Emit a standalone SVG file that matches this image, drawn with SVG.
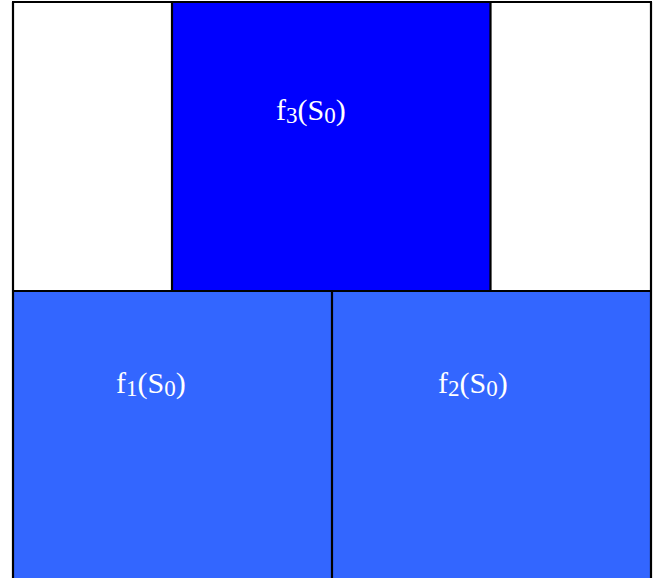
<svg xmlns="http://www.w3.org/2000/svg" width="659" height="578" viewBox="0 0 659 578">
<style>
.lbl{font-family:"Liberation Serif","Times New Roman",serif;font-size:30px;fill:#ffffff}
.sub{font-size:23px}
.edge{stroke:#000;stroke-width:2.2;fill:none}
</style>
<rect width="659" height="578" fill="#ffffff"/>
<g id="node-f3">
<rect x="172" y="2" width="319" height="289" fill="#0000ff"/>
<text class="lbl" x="276" y="120">f<tspan class="sub" dy="3">3</tspan><tspan dy="-3">(S</tspan><tspan class="sub" dy="3">0</tspan><tspan dy="-3">)</tspan></text>
</g>
<g id="node-f1">
<rect x="13" y="291" width="319" height="290" fill="#3366ff"/>
<text class="lbl" x="116" y="393">f<tspan class="sub" dy="3">1</tspan><tspan dy="-3">(S</tspan><tspan class="sub" dy="3">0</tspan><tspan dy="-3">)</tspan></text>
</g>
<g id="node-f2">
<rect x="332" y="291" width="319" height="290" fill="#3366ff"/>
<text class="lbl" x="438" y="393">f<tspan class="sub" dy="3">2</tspan><tspan dy="-3">(S</tspan><tspan class="sub" dy="3">0</tspan><tspan dy="-3">)</tspan></text>
</g>
<g id="connectors">
<path class="edge" d="M13 2 V580 M651 2 V580 M12 2 H652 M172 2 V291 M490.5 2 V291 M12 291 H652 M332 291 V580"/>
</g>
</svg>
